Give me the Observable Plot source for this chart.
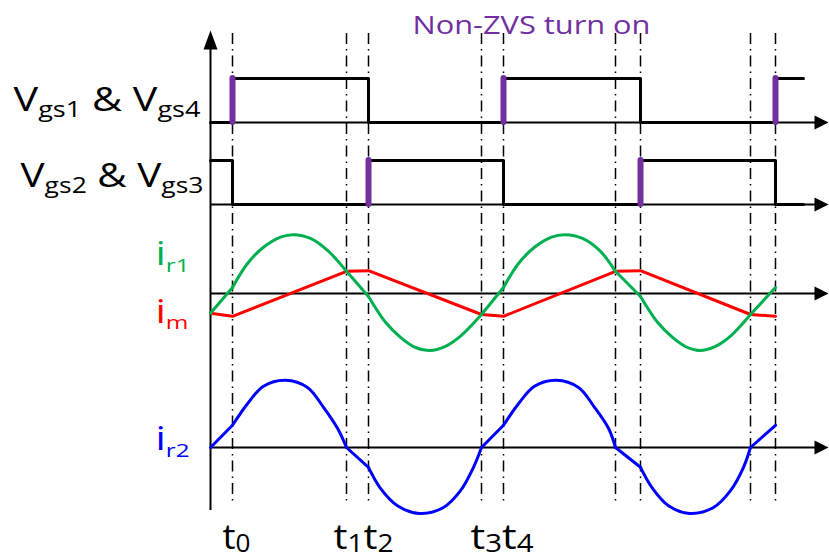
<!DOCTYPE html>
<html>
<head>
<meta charset="utf-8">
<script src="https://cdn.jsdelivr.net/npm/d3@7"></script>
<script src="https://cdn.jsdelivr.net/npm/@observablehq/plot@0.6"></script>
<style>
  html, body { margin: 0; padding: 0; background: #fff; }
  #chart svg { display: block; }
</style>
</head>
<body>
<div id="chart"></div>
<script>
// ================= DATA (time in arbitrary units from the vertical axis) =================
const titleText = "Non-ZVS turn on";
const gateNames = ["V_{gs1} & V_{gs4}", "V_{gs2} & V_{gs3}"];
const currentNames = ["i_{r1}", "i_{m}", "i_{r2}"];
const eventNames = ["t_{0}", "t_{1}t_{2}", "t_{3}t_{4}"];
const eventNameTimes = [22, 136, 271];

// switching instants (dash-dot markers)
const eventTimes = [22, 136, 158, 271, 293, 405, 430, 540, 565];

// gate signals (step-after), level 0 = off, 1 = on
const gateTime   = [0, 22, 158, 293, 430, 565, 593];
const vgs14Level = [0, 1, 0, 1, 0, 1, 1];
const vgs23Level = [1, 0, 1, 0, 1, 0, 0];
// hard (non-ZVS) turn-on instants
const hardOn14 = [22, 293, 565];
const hardOn23 = [158, 430];

// resonant current i_r1 (normalised), one sub-array per interval
const ir1Time = [
  [0, 22],
  [22, 37, 53, 70, 83, 100, 117, 136],
  [136, 158],
  [158, 175, 190, 205, 219, 235, 250, 271],
  [271, 293],
  [293, 308, 324, 341, 355, 372, 389, 405],
  [405, 430],
  [430, 447, 462, 477, 489, 505, 520, 540],
  [540, 565]
];
const ir1Value = [
  [-0.33, 0.10],
  [0.10, 0.50, 0.77, 0.94, 0.98, 0.92, 0.72, 0.37],
  [0.37, -0.05],
  [-0.05, -0.48, -0.73, -0.90, -0.95, -0.88, -0.71, -0.35],
  [-0.35, 0.10],
  [0.10, 0.50, 0.77, 0.94, 0.98, 0.92, 0.72, 0.37],
  [0.37, -0.05],
  [-0.05, -0.48, -0.73, -0.90, -0.95, -0.88, -0.71, -0.35],
  [-0.35, 0.10]
];

// magnetizing current i_m (normalised)
const imTime  = [0, 22, 136, 158, 271, 293, 405, 430, 540, 565];
const imValue = [-0.33, -0.38, 0.37, 0.38, -0.35, -0.38, 0.37, 0.38, -0.35, -0.38];

// secondary current i_r2 (normalised)
const ir2Time = [
  [0, 22],
  [22, 37, 53, 75, 97, 113, 127, 136],
  [136, 158],
  [158, 170, 187, 209, 233, 250, 263, 271],
  [271, 293],
  [293, 308, 324, 346, 368, 384, 398, 405],
  [405, 430],
  [430, 442, 458, 479, 503, 520, 533, 540],
  [540, 565]
];
const ir2Value = [
  [0, 0.37],
  [0.37, 0.73, 1.02, 1.12, 1.00, 0.67, 0.32, 0],
  [0, -0.33],
  [-0.33, -0.68, -0.97, -1.10, -1.00, -0.72, -0.33, 0],
  [0, 0.37],
  [0.37, 0.73, 1.02, 1.12, 1.00, 0.67, 0.32, 0],
  [0, -0.33],
  [-0.33, -0.68, -0.97, -1.10, -1.00, -0.72, -0.33, 0],
  [0, 0.37]
];

// ================= LAYOUT / STYLE =================
const W = 829, H = 559;
const FONT = "'Open Sans', 'DejaVu Sans', sans-serif";
const lane = {g14: 122, g23: 204, ir1: 293, ir2: 447}; // zero-level rows
const gateGain = 44, curGain = 60;
const axisEnd = 618, axisTop = 30, axisBottom = 510;
const C = {green: "#00B050", red: "#FF0000", blue: "#0000FF", purple: "#7030A0"};

const segRows = (T, V) => T.flatMap((ts, s) => ts.map((t, i) => ({t, v: V[s][i], seg: s})));
const ir1Rows = segRows(ir1Time, ir1Value);
const ir2Rows = segRows(ir2Time, ir2Value);
const imRows = imTime.map((t, i) => ({t, v: imValue[i]}));
const g14Rows = gateTime.map((t, i) => ({t, v: vgs14Level[i]}));
const g23Rows = gateTime.map((t, i) => ({t, v: vgs23Level[i]}));

const arrowHead = (len, wid) => ({
  draw(ctx) { ctx.moveTo(0, 0); ctx.lineTo(-wid / 2, len); ctx.lineTo(wid / 2, len); ctx.closePath(); }
});

// text styling for rich (subscript) labels
const textCfg = new Map([
  [titleText,        {width: 238}],
  [gateNames[0],     {sub: 21, shift: 6, width: 187}],
  [gateNames[1],     {sub: 21, shift: 6, width: 183}],
  [currentNames[0],  {sub: 19, shift: 7, width: 34}],
  [currentNames[1],  {sub: 19, shift: 6, width: 33}],
  [currentNames[2],  {sub: 19, shift: 7, width: 34}],
  [eventNames[0],    {sub: 25, shift: 3, width: 28}],
  [eventNames[1],    {sub: 25, shift: 3, width: 60}],
  [eventNames[2],    {sub: 25, shift: 3, width: 63}]
]);

const txt = (label, x, y, opts) => Plot.text([label], {
  x: () => x, y: () => y, text: d => d, fontFamily: FONT, lineAnchor: "bottom", ...opts
});

const chart = Plot.plot({
  width: W, height: H,
  marginLeft: 0, marginRight: 0, marginTop: 0, marginBottom: 0,
  style: {background: "#fff", overflow: "visible"},
  x: {domain: [-210, 619], range: [0, W], axis: null},
  y: {domain: [0, H], range: [0, H], axis: null},
  marks: [
    // axes
    Plot.ruleX([0], {y1: axisTop + 18, y2: axisBottom, stroke: "black", strokeWidth: 2}),
    Plot.ruleY([lane.g14, lane.g23, lane.ir1, lane.ir2], {x1: 0, x2: axisEnd - 12, y: d => d, stroke: "black", strokeWidth: 1.8}),
    Plot.dot([lane.g14, lane.g23, lane.ir1, lane.ir2], {x: () => axisEnd, y: d => d, symbol: arrowHead(14, 14), rotate: 90, fill: "black", stroke: "none"}),
    Plot.dot([0], {x: d => d, y: () => axisTop, symbol: arrowHead(19, 14), fill: "black", stroke: "none"}),
    // event markers
    Plot.ruleX(eventTimes, {x: d => d, y1: 33, y2: 505, stroke: "black", strokeWidth: 1.5, strokeDasharray: "11,5,1.5,5"}),
    // currents
    Plot.line(imRows, {x: "t", y: d => lane.ir1 - curGain * d.v, stroke: C.red, strokeWidth: 3}),
    Plot.line(ir1Rows, {x: "t", y: d => lane.ir1 - curGain * d.v, z: "seg", curve: "catmull-rom", stroke: C.green, strokeWidth: 3}),
    Plot.line(ir2Rows, {x: "t", y: d => lane.ir2 - curGain * d.v, z: "seg", curve: "catmull-rom", stroke: C.blue, strokeWidth: 3}),
    // gate signals
    Plot.line(g14Rows, {x: "t", y: d => lane.g14 - gateGain * d.v, curve: "step-after", stroke: "black", strokeWidth: 3}),
    Plot.line(g23Rows, {x: "t", y: d => lane.g23 - gateGain * d.v, curve: "step-after", stroke: "black", strokeWidth: 3}),
    Plot.ruleX(hardOn14, {x: d => d, y1: lane.g14, y2: lane.g14 - gateGain, stroke: C.purple, strokeWidth: 6, strokeLinecap: "round"}),
    Plot.ruleX(hardOn23, {x: d => d, y1: lane.g23, y2: lane.g23 - gateGain, stroke: C.purple, strokeWidth: 6, strokeLinecap: "round"}),
    // labels
    txt(titleText, 202, 33, {fill: C.purple, fontSize: 25, textAnchor: "start"}),
    txt(gateNames[0], -10, 110, {fill: "black", fontSize: 32, textAnchor: "end"}),
    txt(gateNames[1], -7, 186, {fill: "black", fontSize: 32, textAnchor: "end"}),
    txt(currentNames[0], -55, 264, {fill: C.green, fontSize: 32, textAnchor: "start"}),
    txt(currentNames[1], -55, 322, {fill: C.red, fontSize: 32, textAnchor: "start"}),
    txt(currentNames[2], -55, 449, {fill: C.blue, fontSize: 32, textAnchor: "start"}),
    txt(eventNames[0], eventNameTimes[0] - 10, 548, {fill: "black", fontSize: 35, textAnchor: "start"}),
    txt(eventNames[1], eventNameTimes[1] - 13, 548, {fill: "black", fontSize: 35, textAnchor: "start"}),
    txt(eventNames[2], eventNameTimes[2] - 11, 548, {fill: "black", fontSize: 35, textAnchor: "start"})
  ]
});

// convert "_{...}" markup into real subscript tspans; fit widths
const NS = "http://www.w3.org/2000/svg";
chart.querySelectorAll("text").forEach(el => {
  const s = el.textContent;
  const cfg = textCfg.get(s);
  if (!cfg) return;
  if (s.includes("_{")) {
    const parts = [];
    const re = /_\{([^}]*)\}|([^_]+)/g;
    let m;
    while ((m = re.exec(s))) parts.push(m[1] != null ? {t: m[1], sub: true} : {t: m[2], sub: false});
    el.textContent = "";
    let down = false;
    for (const p of parts) {
      const ts = document.createElementNS(NS, "tspan");
      ts.textContent = p.t;
      if (p.sub) {
        ts.setAttribute("font-size", cfg.sub);
        if (!down) { ts.setAttribute("dy", cfg.shift); down = true; }
      } else if (down) {
        ts.setAttribute("dy", -cfg.shift); down = false;
      }
      el.appendChild(ts);
    }
  }
  if (cfg.width) {
    el.setAttribute("textLength", cfg.width);
    el.setAttribute("lengthAdjust", "spacingAndGlyphs");
  }
});

document.getElementById("chart").appendChild(chart);
</script>
</body>
</html>
